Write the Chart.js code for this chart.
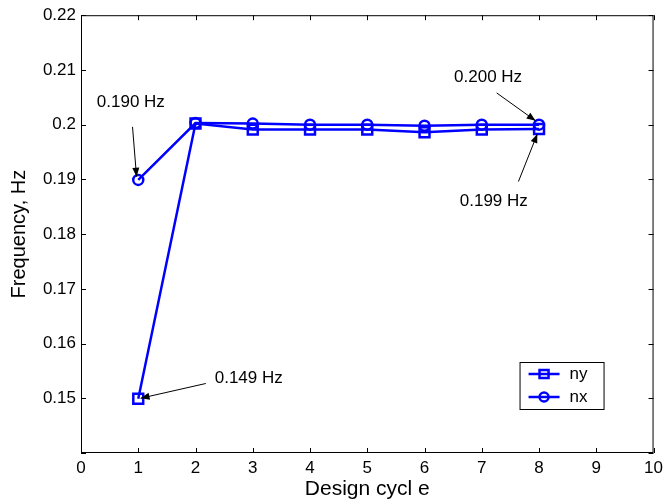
<!DOCTYPE html>
<html>
<head>
<meta charset="utf-8">
<script src="https://cdn.jsdelivr.net/npm/chart.js@4.4.1/dist/chart.umd.min.js"></script>
<style>
  html, body { margin: 0; padding: 0; background: #fff; }
  #wrap { width: 668px; height: 502px; }
</style>
</head>
<body>
<div id="wrap"><canvas id="chart"></canvas></div>
<script>
// design cycles and measured frequencies (Hz)
const cycles = [1, 2, 3, 4, 5, 6, 7, 8];
const nyValues = [0.1499, 0.2002, 0.1991, 0.1991, 0.1991, 0.1986, 0.1991, 0.1992];
const nxValues = [0.1899, 0.2003, 0.2002, 0.2000, 0.2000, 0.1998, 0.2000, 0.2000];
const xTicks = [0, 1, 2, 3, 4, 5, 6, 7, 8, 9, 10];
const yTicks = [0.14, 0.15, 0.16, 0.17, 0.18, 0.19, 0.2, 0.21, 0.22];

const FONT = '"Liberation Sans", Arial, Helvetica, sans-serif';
const BLUE = '#0000ff';

// callouts: text centre and arrow tail/tip, all in data units
const callouts = [
  { text: '0.190 Hz', tx: 0.87, ty: 0.2040, from: [0.90, 0.1996], to: [0.97, 0.1905] },
  { text: '0.200 Hz', tx: 7.11, ty: 0.2087, from: [7.26, 0.2058], to: [7.94, 0.2007] },
  { text: '0.199 Hz', tx: 7.21, ty: 0.1860, from: [7.64, 0.1896], to: [7.97, 0.1983] },
  { text: '0.149 Hz', tx: 2.93, ty: 0.1536, from: [2.18, 0.1527], to: [1.04, 0.1500] }
];

const toPoints = (ys) => cycles.map((c, i) => ({ x: c, y: ys[i] }));

const boxPlugin = {
  id: 'matlabBox',
  afterDraw(chart) {
    const { ctx, chartArea: a, scales: { x, y } } = chart;
    ctx.save();
    ctx.strokeStyle = '#000';
    ctx.lineWidth = 1;
    ctx.strokeRect(a.left + 0.5, a.top + 0.5, a.right - a.left - 1, a.bottom - a.top - 1);
    // inward ticks on all four sides
    ctx.beginPath();
    xTicks.forEach(v => {
      const px = Math.round(x.getPixelForValue(v)) + 0.5;
      ctx.moveTo(px, a.bottom); ctx.lineTo(px, a.bottom - 5);
      ctx.moveTo(px, a.top); ctx.lineTo(px, a.top + 5);
    });
    yTicks.forEach(v => {
      const py = Math.round(y.getPixelForValue(v)) + 0.5;
      ctx.moveTo(a.left, py); ctx.lineTo(a.left + 5, py);
      ctx.moveTo(a.right, py); ctx.lineTo(a.right - 5, py);
    });
    ctx.stroke();

    // callouts with arrows
    ctx.font = '17px ' + FONT;
    ctx.fillStyle = '#000';
    ctx.textAlign = 'center';
    ctx.textBaseline = 'middle';
    callouts.forEach(c => {
      ctx.fillText(c.text, x.getPixelForValue(c.tx), y.getPixelForValue(c.ty));
      const x0 = x.getPixelForValue(c.from[0]), y0 = y.getPixelForValue(c.from[1]);
      const x1 = x.getPixelForValue(c.to[0]), y1 = y.getPixelForValue(c.to[1]);
      const ang = Math.atan2(y1 - y0, x1 - x0);
      ctx.beginPath();
      ctx.moveTo(x0, y0); ctx.lineTo(x1, y1);
      ctx.stroke();
      ctx.beginPath();
      ctx.moveTo(x1, y1);
      ctx.lineTo(x1 - 9 * Math.cos(ang) + 3.5 * Math.sin(ang), y1 - 9 * Math.sin(ang) - 3.5 * Math.cos(ang));
      ctx.lineTo(x1 - 9 * Math.cos(ang) - 3.5 * Math.sin(ang), y1 - 9 * Math.sin(ang) + 3.5 * Math.cos(ang));
      ctx.closePath();
      ctx.fill();
    });

    // legend box in lower right
    const lx = a.right - 134, ly = a.bottom - 91, lw = 84, lh = 47;
    ctx.fillStyle = '#fff';
    ctx.fillRect(lx, ly, lw, lh);
    ctx.strokeStyle = '#000';
    ctx.lineWidth = 1;
    ctx.strokeRect(lx + 0.5, ly + 0.5, lw, lh);
    chart.data.datasets.forEach((ds, i) => {
      const cy = ly + 12 + i * 23;
      ctx.strokeStyle = BLUE;
      ctx.lineWidth = 2.5;
      ctx.beginPath();
      ctx.moveTo(lx + 9, cy); ctx.lineTo(lx + 40, cy);
      ctx.stroke();
      if (ds.pointStyle === 'rect') {
        ctx.strokeRect(lx + 20, cy - 4, 9, 8);
      } else {
        ctx.beginPath();
        ctx.arc(lx + 24.5, cy, 4.5, 0, Math.PI * 2);
        ctx.stroke();
      }
      ctx.fillStyle = '#000';
      ctx.font = '17px ' + FONT;
      ctx.textAlign = 'left';
      ctx.fillText(ds.label, lx + 50, cy);
    });
    ctx.restore();
  }
};

new Chart(document.getElementById('chart'), {
  type: 'line',
  data: {
    datasets: [
      {
        label: 'ny',
        data: toPoints(nyValues),
        borderColor: BLUE,
        borderWidth: 2.5,
        pointStyle: 'rect',
        pointRadius: 7,
        pointBorderWidth: 2.5,
        pointBorderColor: BLUE,
        pointBackgroundColor: 'rgba(0,0,0,0)',
        tension: 0
      },
      {
        label: 'nx',
        data: toPoints(nxValues),
        borderColor: BLUE,
        borderWidth: 2.5,
        pointStyle: 'circle',
        pointRadius: 5,
        pointBorderWidth: 2.5,
        pointBorderColor: BLUE,
        pointBackgroundColor: 'rgba(0,0,0,0)',
        tension: 0
      }
    ]
  },
  options: {
    responsive: true,
    maintainAspectRatio: false,
    animation: false,
    layout: { padding: { top: 15, right: 10, left: 0, bottom: 0 } },
    plugins: { legend: { display: false }, tooltip: { enabled: false } },
    scales: {
      x: {
        type: 'linear',
        min: 0, max: 10,
        afterFit: s => { s.height = 49; },
        afterBuildTicks: s => { s.ticks = xTicks.map(v => ({ value: v })); },
        grid: { display: false, tickLength: 0 },
        border: { display: false },
        ticks: { color: '#000', padding: 5, font: { family: FONT, size: 17 } },
        title: { display: true, text: 'Design cycl e', color: '#000', padding: { top: 3, bottom: 0 }, font: { family: FONT, size: 21 } }
      },
      y: {
        min: 0.14, max: 0.22,
        afterFit: s => { s.width = 81; },
        afterBuildTicks: s => { s.ticks = yTicks.map(v => ({ value: v })); },
        grid: { display: false, tickLength: 0 },
        border: { display: false },
        ticks: {
          color: '#000', padding: 5, font: { family: FONT, size: 17 },
          callback: v => Math.abs(v - 0.14) < 1e-9 ? '' : String(Number(v.toFixed(2)))
        },
        title: { display: true, text: 'Frequency, Hz', color: '#000', padding: { top: 7, bottom: 0 }, font: { family: FONT, size: 20 } }
      }
    }
  },
  plugins: [boxPlugin]
});
</script>
</body>
</html>
